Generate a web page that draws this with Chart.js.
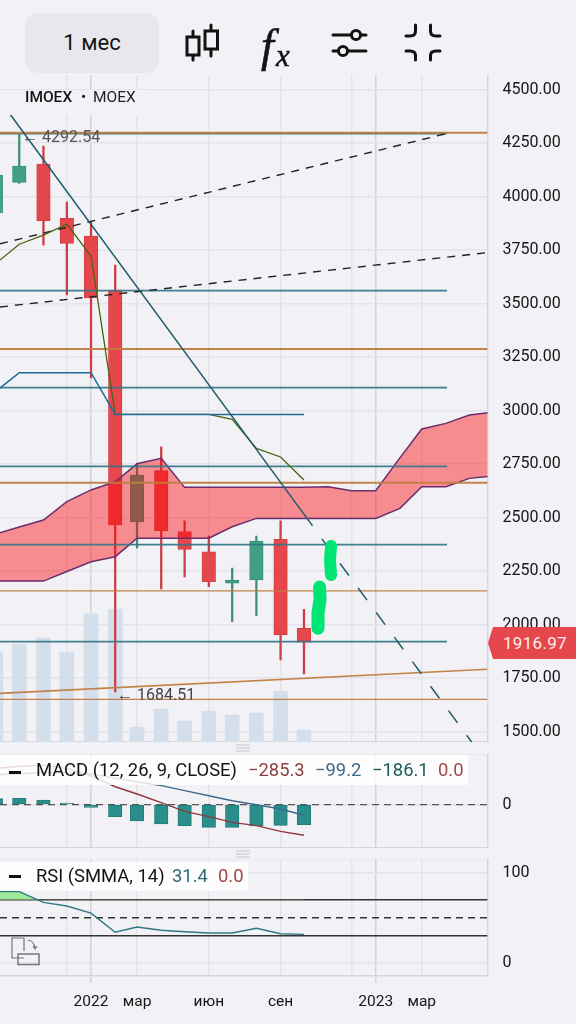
<!DOCTYPE html>
<html lang="ru">
<head>
<meta charset="utf-8">
<title>IMOEX</title>
<script src="https://cdn.jsdelivr.net/npm/chart.js@4"></script>
<style>
  html, body { margin: 0; padding: 0; background: #f1f1f6; }
  body { width: 576px; height: 1024px; overflow: hidden; position: relative; font-family: Roboto, sans-serif; color: #141414; }
  canvas { position: absolute; left: 0; }
  .box { position: absolute; }
  .txt { position: absolute; white-space: nowrap; line-height: 1; }
  svg { position: absolute; left: 0; top: 0; }
  #period { left: 25px; top: 13px; width: 134px; height: 60px; border-radius: 13px; background: #e7e7ed; text-align: center; line-height: 60px; font-size: 22px; }
  #priceTag { left: 488px; top: 627px; width: 88px; height: 32px; background: #e5474c; color: #fbeeee; font-size: 17px; line-height: 32px; text-indent: 15px; letter-spacing: .3px;
              clip-path: polygon(5px 0, 100% 0, 100% 100%, 5px 100%, 0 50%); }
</style>
</head>
<body>
<canvas id="mainChart" width="576" height="667" style="top:75px"></canvas>
<canvas id="macdChart" width="576" height="94" style="top:753.5px"></canvas>
<canvas id="rsiChart" width="576" height="165" style="top:859px"></canvas>

<!-- toolbar -->
<div class="box" id="period">1 мес</div>
<svg width="576" height="1024" fill="none" stroke="#121212" stroke-width="3" stroke-linecap="round">
  <path d="M193 31V37M193 55V60M187 37H199V55H187Z"/>
  <path d="M211 25V31M211 49V56M205 31H217.5V49H205Z"/>
  <path d="M333 35H351M361 35H366M333 51H338M348 51H366"/>
  <circle cx="356" cy="35" r="4.6"/><circle cx="343" cy="51" r="4.6"/>
  <path d="M415.5 25V31Q415.5 36 410 36H406M430.5 25V31Q430.5 36 436 36H440M415.5 60V55.5Q415.5 51 410 51H406M430.5 60V55.5Q430.5 51 436 51H440"/>
</svg>
<div class="txt" style="left:261px;top:19px;font:italic 46px 'Liberation Serif';-webkit-text-stroke:.6px #141414">f</div>
<div class="txt" style="left:276px;top:38px;font:italic 31px 'Liberation Serif';-webkit-text-stroke:.5px #141414">x</div>

<!-- main legend -->
<div class="box" style="left:2px;top:90px;width:146px;height:25px;background:#f1f1f6"></div>
<div class="txt" style="left:25px;top:90px;font-size:15.5px;font-weight:500">IMOEX</div>
<div class="txt" style="left:81px;top:90px;font-size:15.5px">•</div>
<div class="txt" style="left:93px;top:90px;font-size:15.5px;color:#222">MOEX</div>
<div class="txt" style="left:22px;top:129px;font-size:16px;color:#555">← 4292.54</div>
<div class="txt" style="left:117px;top:687px;font-size:16px;color:#444">← 1684.51</div>
<div class="box" id="priceTag">1916.97</div>

<!-- MACD legend -->
<div class="box" style="left:0;top:755px;width:468px;height:30px;background:rgba(255,255,255,.82)"></div>
<div class="box" style="left:9px;top:771px;width:12px;height:3px;background:#111"></div>
<div class="txt" style="left:36px;top:761px;font-size:18.4px">MACD (12, 26, 9, CLOSE)</div>
<div class="txt" style="left:248px;top:761px;font-size:18.4px;color:#8b3f3f">−285.3</div>
<div class="txt" style="left:315px;top:761px;font-size:18.4px;color:#3f6a8a">−99.2</div>
<div class="txt" style="left:372px;top:761px;font-size:18.4px;color:#1d5c5c">−186.1</div>
<div class="txt" style="left:438px;top:761px;font-size:18.4px;color:#a04848">0.0</div>

<!-- RSI legend -->
<div class="box" style="left:0;top:862px;width:248px;height:29px;background:rgba(255,255,255,.82)"></div>
<div class="box" style="left:9px;top:875px;width:12px;height:3px;background:#111"></div>
<div class="txt" style="left:36px;top:867px;font-size:18.4px">RSI (SMMA, 14)</div>
<div class="txt" style="left:172px;top:867px;font-size:18.4px;color:#2e6a7a">31.4</div>
<div class="txt" style="left:218px;top:867px;font-size:18.4px;color:#a04848">0.0</div>

<!-- pane drag handles and rotate icon -->
<svg width="576" height="1024" fill="none" stroke="#d3d3dc" stroke-width="1.3">
  <path d="M236 745H250M236 748H250M236 751H250M236 851H250M236 854H250M236 857H250"/>
  <g stroke="#777" stroke-width="1.2">
    <path d="M24 958H12V938H24V951"/>
    <rect x="18" y="954" width="21" height="10.5" stroke-width="1.5"/>
    <path d="M28 940Q34 941 35 948M33 946L35 949L37 946"/>
  </g>
</svg>

<script>
// ============================
// Data
// ============================
// x values are days counted from 1 Jan 2022 (the time axis is proportional to days)
const xMin = -116.7;
const xMax = 508.3;
const gridDays   = [-31, 0, 59, 151, 243, 334, 365, 424];
const gridLabels = ['', '2022', 'мар', 'июн', 'сен', '', '2023', 'мар'];
const yearDays   = [0, 365];

const priceTicks = [4500, 4250, 4000, 3750, 3500, 3250, 3000, 2750, 2500, 2250, 2000, 1750, 1500];

const candleDays  = [-122, -92, -61, -31, 0, 31, 59, 90, 120, 151, 181, 212, 243, 273];
const candleOpen  = [3924, 4066, 4152, 3898, 3815, 3563, 2480, 2719, 2434, 2340, 2193, 2208, 2398, 1982];
const candleHigh  = [4150, 4292.54, 4236, 3974, 3882, 3680, 2755, 2830, 2485, 2413, 2264, 2413, 2485, 2071];
const candleLow   = [3880, 4061, 3773, 3540, 3152, 1684.51, 2357, 2166, 2222, 2177, 2013, 2041, 1834, 1769];
const candleClose = [4100, 4142, 3887, 3781, 3526, 2465, 2698, 2438, 2351, 2200, 2208, 2390, 1951, 1917];
const volumes     = [90, 98, 104, 90, 128, 133, 15, 33, 21, 31, 27, 29, 51, 12];

const cloudDays  = [-122, -92, -61, -31, 0, 31, 59, 90, 120, 151, 181, 212, 243, 273, 304, 334, 365, 396, 424, 455, 485, 516];
const cloudUpper = [2423, 2456, 2488, 2574, 2629, 2667, 2751, 2777, 2641, 2641, 2641, 2641, 2641, 2641, 2644, 2625, 2625, 2779, 2914, 2940, 2979, 2993];
const cloudLower = [2203, 2203, 2203, 2248, 2293, 2317, 2403, 2403, 2403, 2403, 2457, 2496, 2496, 2496, 2496, 2496, 2496, 2543, 2644, 2644, 2683, 2694];

const kijunDays   = [-116.7, -92, 0, 31, 273];
const kijunValues = [3105, 3177, 3177, 2982, 2982];
const tenkanDays   = [-116.7, -92, -61, -31, 0, 31, 151, 181, 212, 243, 273];
const tenkanValues = [3703, 3777, 3820, 3871, 3722, 2982, 2982, 2959, 2823, 2783, 2675];

const tealLevels   = [4294, 3560, 3107, 2739, 2373, 1920];
const tealEndDay   = 456.4;
const orangeLevels = [4298, 3287, 2663, 2157, 1650];

const risingDays    = [-116.7, 508.3];
const risingValues  = [1678, 1791];
const dash1Days     = [-116.7, 456.4];
const dash1Values   = [3779, 4295];
const dash2Days     = [-116.7, 508.3];
const dash2Values   = [3484, 3738];
const downDays      = [-104, 284];
const downValues    = [4386, 2461];
const downDashDays  = [296, 488];
const downDashValues = [2400, 1451];

const scribble1Days   = [307.7, 306.4, 307.7];
const scribble1Values = [2367, 2301, 2231];
const scribble2Days   = [293, 293.6, 291, 291];
const scribble2Values = [2175, 2114, 2058, 1983];

const macdDays   = [-122, -92, -61, -31, 0, 31, 59, 90, 120, 151, 181, 212, 243, 273];
const macdHist   = [56, 59, 44, 16, -25, -112, -152, -180, -196, -212, -212, -199, -193, -186];
const macdLine   = [340, 360, 370, 340, 270, 168, 100, 19, -63, -112, -165, -196, -250, -285.3];
const macdSignal = [280, 290, 300, 300, 290, 248, 215, 178, 131, 84, 37, 0, -40, -99.2];

const rsiDays   = [-116.7, -92, -61, -31, 0, 31, 59, 90, 120, 151, 181, 212, 243, 273];
const rsiValues = [79, 79, 67, 63, 55, 33.8, 39.7, 36, 34.4, 33, 33, 38.2, 32.2, 31.4];
const rsiLevels = [70, 30];

// ============================
// Helpers
// ============================
const GREEN_BODY = '#419f83';
const RED_BODY   = '#e6474c';
const TEAL       = 'rgba(52,118,134,.92)';
const ORANGE     = 'rgba(192,124,62,.95)';
const GRID       = '#e3e3ea';
const GRID_YEAR  = '#d2d2dd';

function toPoints(xs, ys) {
    return xs.map((x, i) => ({ x: x, y: ys[i] }));
}

function lineDs(xs, ys, color, width, order, extra) {
    return Object.assign({
        type: 'line',
        data: toPoints(xs, ys),
        borderColor: color,
        borderWidth: width,
        pointRadius: 0,
        tension: 0,
        fill: false,
        order: order,
        yAxisID: 'y'
    }, extra || {});
}

// labels of the axes must not push the plot area in
function noPadding(s) {
    s.paddingTop = 0;
    s.paddingBottom = 0;
    s.paddingLeft = 0;
    s.paddingRight = 0;
}

function xAxis(showLabels, height) {
    return {
        type: 'linear',
        min: xMin,
        max: xMax,
        offset: false,
        afterBuildTicks: (s) => { s.ticks = gridDays.map(v => ({ value: v })); },
        afterFit: (s) => { s.height = height; noPadding(s); },
        grid: {
            offset: false,
            lineWidth: 1.5,
            color: (c) => yearDays.includes(c.tick.value) ? GRID_YEAR : GRID,
            drawTicks: showLabels,
            tickLength: 7,
            tickColor: (c) => yearDays.includes(c.tick.value) ? GRID_YEAR : 'rgba(0,0,0,0)'
        },
        border: { display: true, color: '#d6d6df', width: 1.5 },
        ticks: {
            display: showLabels,
            autoSkip: false,
            maxRotation: 0,
            padding: 10,
            color: '#161616',
            font: { family: 'Roboto', size: 15.5 },
            callback: (v) => gridLabels[gridDays.indexOf(v)]
        }
    };
}

function yAxis(min, max, ticks, label) {
    return {
        position: 'right',
        min: min,
        max: max,
        afterBuildTicks: (s) => { s.ticks = ticks.map(v => ({ value: v })); },
        afterFit: (s) => { s.width = 88.5; noPadding(s); },
        grid: { lineWidth: 1.5, color: GRID, drawTicks: false },
        border: { display: true, color: '#d6d6df', width: 1.5 },
        ticks: {
            padding: 15,
            autoSkip: false,
            color: '#161616',
            font: { family: 'Roboto', size: 16 },
            callback: label
        }
    };
}

function baseOptions(scales) {
    return {
        responsive: false,
        animation: false,
        layout: { autoPadding: false, padding: 0 },
        plugins: { legend: { display: false }, tooltip: { enabled: false } },
        scales: scales
    };
}

// ============================
// Main price chart
// ============================
const isUp = candleDays.map((d, i) => candleClose[i] >= candleOpen[i]);

const mainDatasets = [
    {
        data: toPoints(candleDays, volumes),
        yAxisID: 'yVol',
        backgroundColor: '#d5dfeb',
        barThickness: 14,
        grouped: false,
        order: 100
    },
    {
        data: candleDays.map((d, i) => ({ x: d, y: [candleLow[i], candleHigh[i]] })),
        backgroundColor: isUp.map(u => u ? '#3c9079' : '#cf3b42'),
        barThickness: 1.6,
        grouped: false,
        order: 90
    },
    {
        data: candleDays.map((d, i) => ({ x: d, y: [candleOpen[i], candleClose[i]] })),
        backgroundColor: isUp.map(u => u ? GREEN_BODY : RED_BODY),
        borderColor: isUp.map(u => u ? '#38917a' : '#d33e44'),
        borderWidth: 1,
        borderSkipped: false,
        barThickness: 13.5,
        grouped: false,
        order: 80
    },
    // Ichimoku cloud goes over the candles, that is why they turn bright red inside it
    lineDs(cloudDays, cloudUpper, '#6a2d6e', 1.5, 70, { fill: '+1', backgroundColor: 'rgba(252,0,0,.42)' }),
    lineDs(cloudDays, cloudLower, '#6a2d6e', 1.5, 69),
    lineDs(risingDays, risingValues, ORANGE, 1.6, 50),
    lineDs(dash1Days, dash1Values, '#222', 1.4, 40, { borderDash: [8, 7] }),
    lineDs(dash2Days, dash2Values, '#222', 1.4, 40, { borderDash: [8, 7] }),
    lineDs(kijunDays, kijunValues, '#1c6f96', 1.5, 33),
    lineDs(tenkanDays, tenkanValues, '#4a6512', 1.3, 34),
    lineDs(downDays, downValues, '#1f5d6b', 1.5, 30),
    lineDs(downDashDays, downDashValues, '#1f5d6b', 1.5, 30, { borderDash: [15, 15.5] }),
    lineDs(scribble1Days, scribble1Values, '#00e474', 12, 5, { borderCapStyle: 'round', borderJoinStyle: 'round' }),
    lineDs(scribble2Days, scribble2Values, '#00e474', 13, 5, { borderCapStyle: 'round', borderJoinStyle: 'round' })
];

tealLevels.forEach((v) => {
    mainDatasets.push(lineDs([xMin, tealEndDay], [v, v], TEAL, 1.7, 45));
});
orangeLevels.forEach((v) => {
    mainDatasets.push(lineDs([xMin, xMax], [v, v], ORANGE, v < 2500 ? 1.3 : 2, 44));
});

new Chart(document.getElementById('mainChart').getContext('2d'), {
    type: 'bar',
    data: { datasets: mainDatasets },
    options: baseOptions({
        x: xAxis(false, 0),
        y: yAxis(1451, 4568, priceTicks, (v) => v.toFixed(2)),
        yVol: { display: false, min: 0, max: 667 }
    })
});

// ============================
// MACD pane
// ============================
new Chart(document.getElementById('macdChart').getContext('2d'), {
    type: 'bar',
    data: {
        datasets: [
            {
                data: toPoints(macdDays, macdHist),
                backgroundColor: '#2a8e8b',
                borderColor: '#237c7a',
                borderWidth: 1,
                borderSkipped: false,
                barThickness: 13.5,
                grouped: false,
                order: 20
            },
            lineDs(macdDays, macdLine, '#8e3a3e', 1.4, 10),
            lineDs(macdDays, macdSignal, '#3f6a8a', 1.4, 9),
            lineDs([xMin, xMax], [0, 0], '#555', 1.3, 30, { borderDash: [7, 5] })
        ]
    },
    options: baseOptions({
        x: xAxis(false, 0),
        y: yAxis(-405, 474, [474, 0], (v) => v === 0 ? '0' : '')
    })
});

// ============================
// RSI pane
// ============================
const rsiDatasets = [
    lineDs(rsiDays, rsiValues, '#2e7a80', 1.4, 10, {
        fill: { target: { value: 70 }, above: '#9ee89a', below: 'rgba(0,0,0,0)' }
    }),
    lineDs([xMin, xMax], [50, 50], '#333', 1.4, 20, { borderDash: [7, 5] })
];
rsiLevels.forEach((v) => {
    rsiDatasets.push(lineDs([xMin, xMax], [v, v], '#333', 1.5, 15));
});

new Chart(document.getElementById('rsiChart').getContext('2d'), {
    type: 'line',
    data: { datasets: rsiDatasets },
    options: baseOptions({
        x: xAxis(true, 48),
        y: yAxis(-14.8, 115.2, [115.2, 100, 0], (v) => (v === 100 || v === 0) ? String(v) : '')
    })
});
</script>
</body>
</html>
